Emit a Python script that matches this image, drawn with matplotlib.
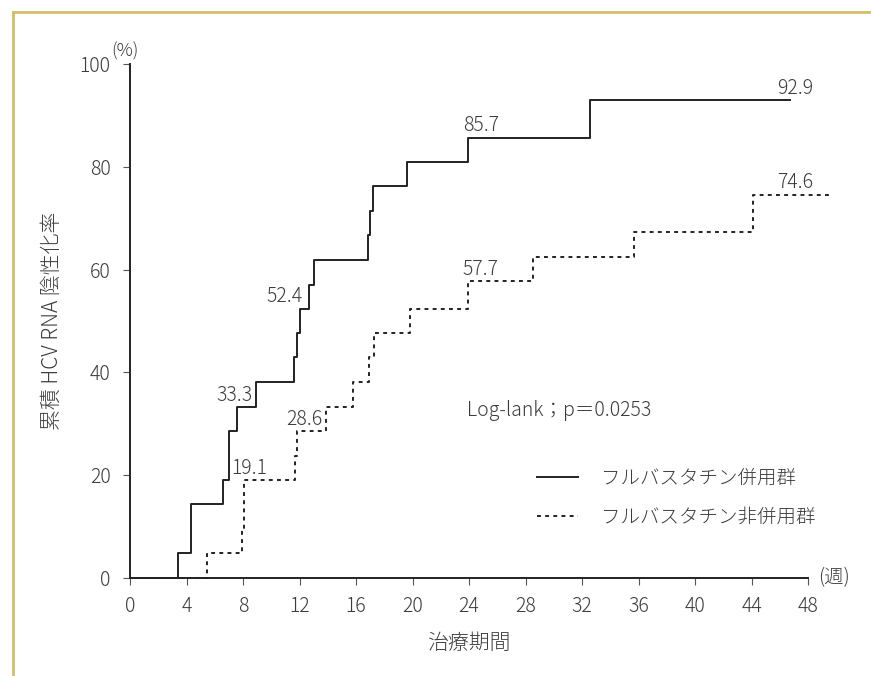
import matplotlib.pyplot as plt
from matplotlib.lines import Line2D

plt.rcParams['font.family'] = ['Noto Sans CJK JP', 'DejaVu Sans']
plt.rcParams['font.weight'] = 'light'
plt.rcParams['axes.labelweight'] = 'light'

# weeks / cumulative HCV RNA negative rate (%)
weeks_with = [0, 3.4, 4.3, 6.55, 7.0, 7.6, 8.9, 11.6, 11.8, 12.0, 12.7, 13.0,
              16.85, 17.0, 17.2, 19.6, 23.9, 32.6, 46.7]
rate_with = [0, 4.8, 14.3, 19.0, 28.6, 33.3, 38.1, 42.9, 47.6, 52.4, 57.1, 61.9,
             66.7, 71.4, 76.2, 81.0, 85.7, 92.9, 92.9]

weeks_without = [0, 5.45, 7.9, 8.1, 11.7, 11.8, 13.85, 15.8, 16.95, 17.3, 19.8,
                 23.9, 28.5, 35.7, 44.1, 49.6]
rate_without = [0, 4.8, 9.5, 19.1, 23.8, 28.6, 33.3, 38.1, 42.9, 47.6, 52.4,
                57.7, 62.4, 67.3, 74.6, 74.6]

# labelled values: (week of right edge, value, text)
labels_with = [(8.65, 33.3, '33.3'), (12.25, 52.4, '52.4'), (26.1, 85.7, '85.7'), (48.35, 92.9, '92.9')]
labels_without = [(9.7, 19.1, '19.1'), (13.6, 28.6, '28.6'), (26.1, 57.7, '57.7'), (48.35, 74.6, '74.6')]

x_ticks = list(range(0, 49, 4))
y_ticks = [0, 20, 40, 60, 80, 100]

txt = '#3c3c3c'
fs = 14
fig = plt.figure(figsize=(8.71, 6.76), dpi=100)
ax = fig.add_axes([130 / 871, 1 - 578 / 676, 678 / 871, 514 / 676])

ax.plot(weeks_with, rate_with, drawstyle='steps-post', color='#222222', lw=1.4, clip_on=False)
ax.plot(weeks_without, rate_without, drawstyle='steps-post', color='#222222', lw=1.4,
        linestyle=(0, (2, 2.2)), clip_on=False)

for x, y, s in labels_with + labels_without:
    ax.text(x, y + 1.2, s, ha='right', va='baseline', fontsize=fs, color=txt)

ax.set_xlim(0, 48)
ax.set_ylim(0, 100)
ax.set_xticks(x_ticks)
ax.set_yticks(y_ticks)
ax.tick_params(labelsize=fs, labelcolor=txt, color='#555555', length=5, direction='out')
ax.tick_params(axis='x', pad=8)
ax.tick_params(axis='y', pad=9)
for side in ['top', 'right']:
    ax.spines[side].set_visible(False)
for side in ['left', 'bottom']:
    ax.spines[side].set_linewidth(1.4)
    ax.spines[side].set_color('#222222')

ax.set_ylabel('累積 HCV RNA 陰性化率', fontsize=15, color=txt, labelpad=12)
ax.set_xlabel('治療期間', fontsize=15, color=txt, labelpad=11)
ax.text(-1.35, 100.6, '(%)', fontsize=13, color=txt, ha='left', va='bottom')
ax.text(48.75, 0, '(週)', fontsize=fs, color=txt, ha='left', va='center')

ax.text(23.85, 32.5, 'Log-lank；p＝0.0253', fontsize=fs, color=txt, ha='left', va='center')

handles = [Line2D([], [], color='#222222', lw=1.4),
           Line2D([], [], color='#222222', lw=1.4, linestyle=(0, (2, 2.2)))]
leg = ax.legend(handles, ['フルバスタチン併用群', 'フルバスタチン非併用群'],
                loc='center left', bbox_to_anchor=(0.600, 0.156), frameon=False,
                fontsize=fs, handlelength=2.1, handletextpad=1.2, labelspacing=0.95,
                borderpad=0, borderaxespad=0)
for t in leg.get_texts():
    t.set_color(txt)

# frame of the original page
fig.add_artist(Line2D([13 / 871, 13 / 871], [0, 1 - 12 / 676], color='#d6bb6a', lw=2))
fig.add_artist(Line2D([13 / 871, 1], [1 - 12 / 676, 1 - 12 / 676], color='#d6bb6a', lw=2))

fig.savefig('out.png', dpi=100)
